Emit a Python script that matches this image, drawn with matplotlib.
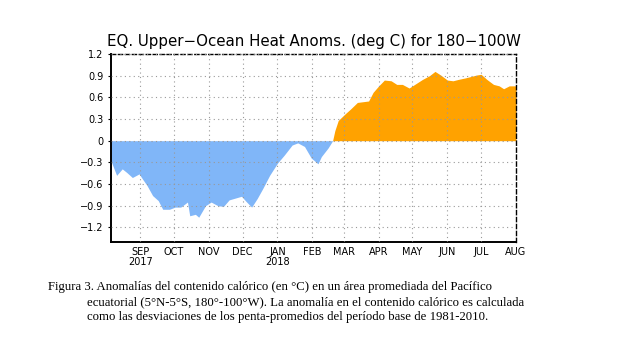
import numpy as np
import pandas as pd
import matplotlib
matplotlib.use("Agg")
import matplotlib.pyplot as plt

# pentad heat content anomalies (deg C)
dates = ["2017-08-06", "2017-08-11", "2017-08-16", "2017-08-20", "2017-08-25",
         "2017-08-31", "2017-09-03", "2017-09-07", "2017-09-12", "2017-09-17",
         "2017-09-21", "2017-09-27", "2017-10-02", "2017-10-07", "2017-10-13",
         "2017-10-15", "2017-10-20", "2017-10-23", "2017-10-29", "2017-11-03",
         "2017-11-09", "2017-11-14", "2017-11-19", "2017-11-30", "2017-12-04",
         "2017-12-09", "2017-12-14", "2017-12-19", "2017-12-25", "2018-01-01",
         "2018-01-07", "2018-01-14", "2018-01-19", "2018-01-25", "2018-01-31",
         "2018-02-06", "2018-02-09", "2018-02-15", "2018-02-19",
         "2018-02-21", "2018-02-24", "2018-03-02",
         "2018-03-07", "2018-03-13", "2018-03-18", "2018-03-23", "2018-03-27",
         "2018-04-01", "2018-04-06", "2018-04-12", "2018-04-17", "2018-04-22",
         "2018-04-28", "2018-05-03", "2018-05-10", "2018-05-16", "2018-05-21",
         "2018-05-26", "2018-06-01", "2018-06-06", "2018-06-11", "2018-06-17",
         "2018-06-22", "2018-06-27", "2018-07-01", "2018-07-06", "2018-07-12",
         "2018-07-17", "2018-07-21", "2018-07-26", "2018-08-01"]
anom = [-0.28, -0.48, -0.39, -0.44, -0.51,
        -0.46, -0.53, -0.62, -0.76, -0.83,
        -0.95, -0.95, -0.92, -0.92, -0.85,
        -1.04, -1.02, -1.06, -0.90, -0.85,
        -0.90, -0.91, -0.82, -0.77, -0.84,
        -0.92, -0.80, -0.66, -0.48, -0.31,
        -0.20, -0.06, -0.03, -0.08, -0.24,
        -0.32, -0.22, -0.10, 0.0,
        0.14, 0.28, 0.37,
        0.44, 0.53, 0.54, 0.55, 0.67,
        0.76, 0.84, 0.83, 0.78, 0.78,
        0.73, 0.78, 0.85, 0.90, 0.96,
        0.91, 0.84, 0.83, 0.85, 0.87,
        0.89, 0.91, 0.92, 0.85, 0.78,
        0.76, 0.72, 0.76, 0.76]

yticks = [1.2, 0.9, 0.6, 0.3, 0, -0.3, -0.6, -0.9, -1.2]
ytick_labels = ["1.2", "0.9", "0.6", "0.3", "0", "\u22120.3", "\u22120.6", "\u22120.9", "\u22121.2"]
month_ticks = ["2017-09-01", "2017-10-01", "2017-11-01", "2017-12-01", "2018-01-01",
               "2018-02-01", "2018-03-01", "2018-04-01", "2018-05-01", "2018-06-01",
               "2018-07-01", "2018-08-01"]
month_labels = ["SEP\n2017", "OCT", "NOV", "DEC", "JAN\n2018", "FEB", "MAR", "APR",
                "MAY", "JUN", "JUL", "AUG"]

caption = ("Figura 3. Anomalías del contenido calórico (en °C) en un área promediada del Pacífico",
           "ecuatorial (5°N-5°S, 180°-100°W). La anomalía en el contenido calórico es calculada",
           "como las desviaciones de los penta-promedios del período base de 1981-2010.")

t = pd.to_datetime(dates)
y = np.array(anom)

fig = plt.figure(figsize=(6.36, 3.63), dpi=100)
ax = fig.add_axes([0.1745, 0.334, 0.6368, 0.517])

ax.fill_between(t, y, 0, where=y <= 0, interpolate=True, color="#80b6f8", lw=0)
ax.fill_between(t, y, 0, where=y >= 0, interpolate=True, color="#ffa200", lw=0)

ax.set_xlim(pd.Timestamp("2017-08-06"), pd.Timestamp("2018-08-01"))
ax.set_ylim(-1.4, 1.2)
ax.set_yticks(yticks)
ax.set_yticklabels(ytick_labels)
ax.set_xticks(pd.to_datetime(month_ticks))
ax.set_xticklabels(month_labels, linespacing=0.95)
ax.tick_params(axis="both", labelsize=7, length=2, width=0.8)
ax.tick_params(axis="x", length=0, pad=4)
ax.grid(True, ls=(0, (1, 3)), color="#999999", lw=0.8)
ax.set_axisbelow(False)

for side in ("left", "bottom"):
    ax.spines[side].set_linewidth(1.4)
for side in ("top", "right"):
    ax.spines[side].set_linestyle((0, (3, 2)))
    ax.spines[side].set_linewidth(1.0)

ax.set_title("EQ. Upper\u2212Ocean Heat Anoms. (deg C) for 180\u2212100W",
             fontsize=10.8, pad=6)

fig.text(48 / 636, 1 - 287 / 363, caption[0], family="Liberation Serif",
         fontsize=9.2, va="center")
for i, line in enumerate(caption[1:]):
    fig.text(87 / 636, 1 - (302 + 15 * i) / 363, line, family="Liberation Serif",
             fontsize=9.2, va="center")

fig.savefig("out.png", dpi=100)
